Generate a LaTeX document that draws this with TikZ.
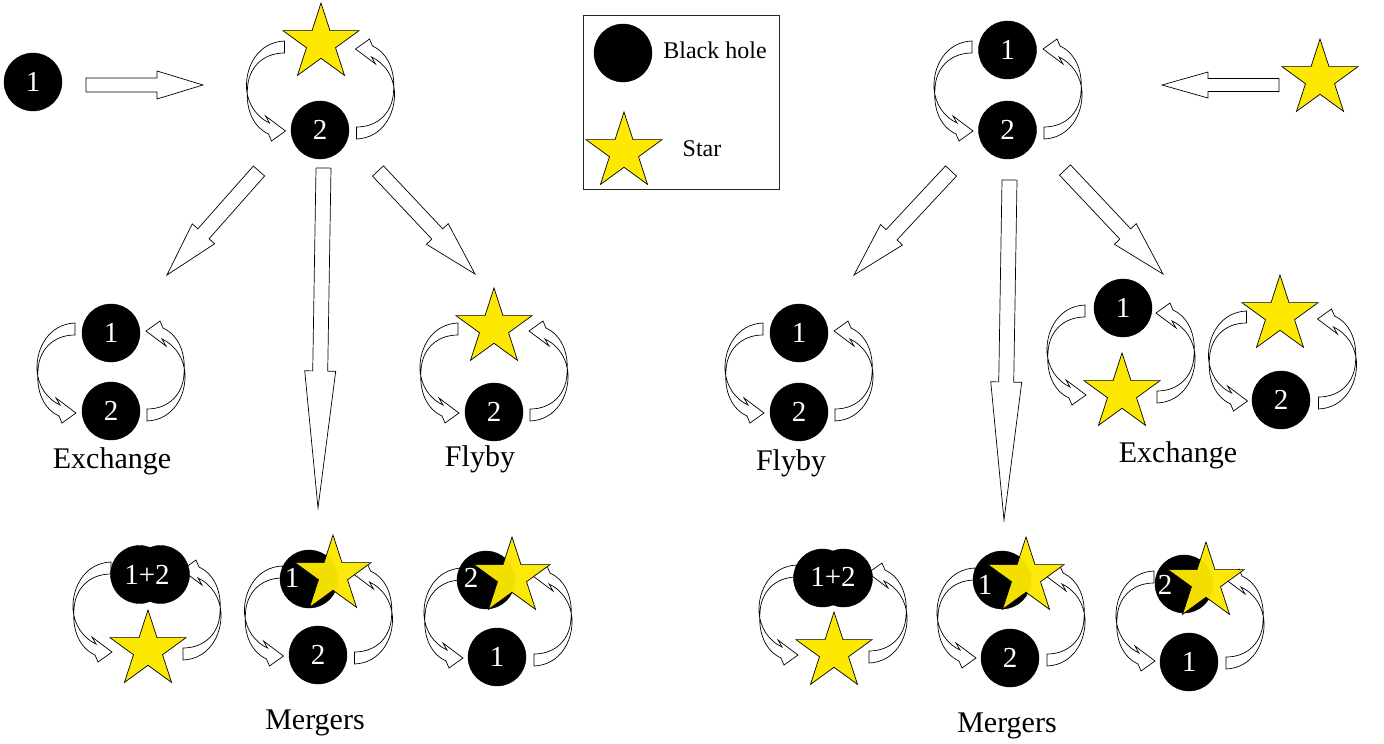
\documentclass[tikz,border=0pt]{standalone}
\usepackage{fontspec}
\setmainfont{Liberation Serif}
\usetikzlibrary{shapes.geometric}
\definecolor{staryellow}{RGB}{252,232,0}
\tikzset{
  bh/.style={circle, fill=black, draw=black, minimum size=58pt, inner sep=0pt, text=white, font=\fontsize{29}{29}\selectfont},
  starnode/.style={star, star points=5, star point ratio=2.618, fill=staryellow, draw=black, line width=0.7pt, minimum size=80pt, inner sep=0pt},
  mstar/.style={starnode, fill opacity=0.96},
  digit/.style={text=white, font=\fontsize{29}{29}\selectfont, inner sep=0pt},
  lbl/.style={font=\fontsize{30}{30}\selectfont, anchor=base, inner sep=0pt},
  legtext/.style={font=\fontsize{24}{24}\selectfont, anchor=base, inner sep=0pt},
  block/.style={draw=black, fill=white, line width=0.7pt, line join=miter},
}
\newcommand{\orbitpath}{%
  (-36,-49) .. controls (-62,-48) and (-75,-24) .. (-74,-2)
  .. controls (-73,14) and (-64,27) .. (-51,33) -- (-55,26) -- (-35,41) -- (-49,51) -- (-52,44)
  .. controls (-67,37) and (-75,20) .. (-73,-2)
  .. controls (-72,-22) and (-58,-37) .. (-36,-37) -- cycle}
\newcommand{\orbitpair}[2]{%
  \begin{scope}[shift={(#1,#2)}]
    \draw[block] \orbitpath;
    \draw[block,rotate=180] \orbitpath;
  \end{scope}}
\newcommand{\blockarrow}[7]{%
  \pgfmathsetmacro{\baang}{atan2((#2)-(#4),(#3)-(#1))}%
  \pgfmathsetmacro{\balen}{veclen((#3)-(#1),(#4)-(#2))}%
  \pgfmathsetmacro{\babase}{\balen-(#7)}%
  \draw[block,shift={(#1,#2)},rotate=\baang] (0,#5) -- (\babase,#5) -- (\babase,#6) -- (\balen,0) -- (\babase,-#6) -- (\babase,-#5) -- (0,-#5) -- cycle;}
\begin{document}
\begin{tikzpicture}[x=1pt,y=-1pt]
\useasboundingbox (0,0) rectangle (1384,744);

% ---------------- legend ----------------
\node[draw=black!85, line width=0.8pt, minimum width=196pt, minimum height=174pt, anchor=north west, inner sep=0pt] (legend) at (583,15) {};
\node[bh] (legbh) at (623,53) {};
\node[legtext] (legbhtext) at (715,58) {Black hole};
\node[starnode] (legstar) at (624,152) {};
\node[legtext] (legstartext) at (702,156) {Star};

% ---------------- left panel ----------------
\node[bh] (Lin) at (33,82) {1};
\blockarrow{86}{85}{203}{85}{7}{14}{46}

\orbitpair{320.5}{90}
\node[starnode] (Ltopstar) at (321,43) {};
\node[bh] (Ltop2) at (320,130) {2};

\blockarrow{259}{171}{167}{275}{7.5}{15}{55}
\blockarrow{323.5}{168}{318}{508}{7.5}{15.5}{137}
\blockarrow{378}{171}{475}{274}{7.5}{15}{55}

% exchange (left)
\orbitpair{111}{372}
\node[bh] (Lex1) at (111,333) {1};
\node[bh] (Lex2) at (111,411) {2};
\node[lbl] (Lextext) at (112,468) {Exchange};

% flyby (left)
\orbitpair{494}{372}
\node[starnode] (Lflystar) at (494,328) {};
\node[bh] (Lfly2) at (494,412) {2};
\node[lbl] (Lflytext) at (480,466) {Flyby};

% mergers (left)
\orbitpair{147}{611}
\node[bh] (Lm1a) at (139.5,574.5) {};
\node[bh] (Lm1b) at (160.5,574.5) {};
\node[digit] (Lm1t) at (147,575) {1+2};
\node[starnode] (Lm1star) at (148,650) {};

\orbitpair{318.5}{615}
\node[bh] (Lm2a) at (309,579) {};
\node[digit] (Lm2t) at (292,578) {1};
\node[mstar] (Lm2star) at (333,575) {};
\node[bh] (Lm2b) at (318,655) {2};

\orbitpair{498}{617}
\node[bh] (Lm3a) at (486,580) {};
\node[digit] (Lm3t) at (471,578) {2};
\node[mstar] (Lm3star) at (512,577) {};
\node[bh] (Lm3b) at (497,657) {1};

\node[lbl] (Lmtext) at (315,729) {Mergers};

% ---------------- right panel ----------------
\orbitpair{1008}{90}
\node[bh] (Rtop1) at (1007.5,50) {1};
\node[bh] (Rtop2) at (1007.5,130) {2};

\node[starnode] (Rin) at (1320,79) {};
\blockarrow{1279}{85}{1162}{85}{6.5}{13}{46}

\blockarrow{951}{171}{854}{275}{7.5}{15}{55}
\blockarrow{1009.5}{180}{1004}{520}{7.5}{15.5}{138}
\blockarrow{1065}{170}{1163}{274}{7.5}{15}{55}

% flyby (right)
\orbitpair{799}{372}
\node[bh] (Rfly1) at (799,333) {1};
\node[bh] (Rfly2) at (799,412) {2};
\node[lbl] (Rflytext) at (791,470) {Flyby};

% exchange (right)
\orbitpair{1121}{354}
\node[bh] (Rex1) at (1123,308) {1};
\node[starnode] (Rexstar) at (1122,393) {};
\orbitpair{1282.5}{360}
\node[starnode] (Rexstar2) at (1280,315) {};
\node[bh] (Rex2) at (1281,400) {2};
\node[lbl] (Rextext) at (1178,462) {Exchange};

% mergers (right)
\orbitpair{833}{614}
\node[bh] (Rm1a) at (822.5,578) {};
\node[bh] (Rm1b) at (843.5,578) {};
\node[digit] (Rm1t) at (833,577) {1+2};
\node[starnode] (Rm1star) at (834,652) {};

\orbitpair{1011}{617}
\node[bh] (Rm2a) at (1002,580) {};
\node[digit] (Rm2t) at (985,585) {1};
\node[mstar] (Rm2star) at (1026,577) {};
\node[bh] (Rm2b) at (1010,658) {2};

\orbitpair{1190}{620}
\node[bh] (Rm3a) at (1184,584) {};
\node[digit] (Rm3t) at (1165,585) {2};
\node[mstar] (Rm3star) at (1206,582) {};
\node[bh] (Rm3b) at (1189,662) {1};

\node[lbl] (Rmtext) at (1007,732) {Mergers};
\end{tikzpicture}
\end{document}
